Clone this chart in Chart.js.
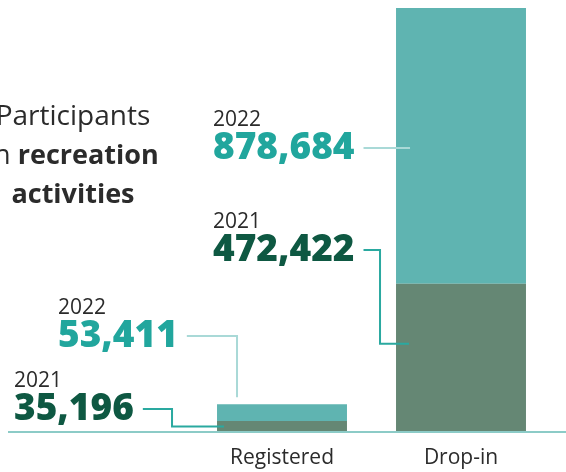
<!DOCTYPE html>
<html>
<head>
<meta charset="utf-8">
<script src="https://cdn.jsdelivr.net/npm/chart.js@4/dist/chart.umd.min.js"></script>
<style>
  html, body { margin: 0; padding: 0; background: #fff; }
  #wrap { width: 566px; height: 472px; }
</style>
</head>
<body>
<div id="wrap"><canvas id="chart" width="566" height="472"></canvas></div>
<script>
// data
const categories = ['Registered', 'Drop-in'];
const years = ['2021', '2022'];
const values2021 = [35196, 472422];
const values2022 = [53411, 878684];
const titleLines = [
    [['Participants', 400]],
    [['in ', 400], ['recreation', 700]],
    [['activities', 700]]
];

const colour2021 = '#658774';
const colour2022 = '#5fb4b1';
const text2021 = '#0e5842';
const text2022 = '#21a69d';
const line2021 = '#2aa9a0';
const line2022 = '#a9d9d7';
const fontName = '"Open Sans", "Noto Sans", sans-serif';

// callouts: which bar / dataset, where the text goes, how the leader bends
const callouts = [
    { ds: 1, bar: 1, x: 213, y: 126, elbow: null, endX: 14, target: 0.51 },
    { ds: 0, bar: 1, x: 213, y: 228, elbow: -16, endX: 13, target: 0.405 },
    { ds: 1, bar: 0, x: 58, y: 314, elbow: 20, endX: null, target: -7 },
    { ds: 0, bar: 0, x: 14, y: 387, elbow: -45, endX: 7, target: 0.5 }
];

function fmt(v) {
    return v.toLocaleString('en-US');
}

const calloutPlugin = {
    id: 'callouts',
    afterDatasetsDraw(chart) {
        const ctx = chart.ctx;
        const area = chart.chartArea;
        ctx.save();

        // baseline
        ctx.strokeStyle = '#8ccbc7';
        ctx.lineWidth = 2;
        ctx.beginPath();
        ctx.moveTo(8, area.bottom);
        ctx.lineTo(chart.width, area.bottom);
        ctx.stroke();

        // title
        ctx.fillStyle = '#2b2b2b';
        ctx.textBaseline = 'alphabetic';
        let ty = 125;
        titleLines.forEach((parts, i) => {
            const size = i === 0 ? 28 : 27;
            let w = 0;
            parts.forEach(p => {
                ctx.font = p[1] + ' ' + size + 'px ' + fontName;
                w += ctx.measureText(p[0]).width;
            });
            let tx = 73 - w / 2;
            parts.forEach(p => {
                ctx.font = p[1] + ' ' + size + 'px ' + fontName;
                ctx.textAlign = 'left';
                ctx.fillText(p[0], tx, ty);
                tx += ctx.measureText(p[0]).width;
            });
            ty += 39;
        });

        // callouts
        callouts.forEach(c => {
            const values = c.ds === 0 ? values2021 : values2022;
            const el = chart.getDatasetMeta(c.ds).data[c.bar];
            const p = el.getProps(['x', 'y', 'base', 'width'], true);
            const left = p.x - p.width / 2;
            const top = Math.min(p.y, p.base);
            const bottom = Math.max(p.y, p.base);

            ctx.textAlign = 'left';
            ctx.fillStyle = '#2b2b2b';
            ctx.font = '400 21px ' + fontName;
            ctx.fillText(years[c.ds], c.x, c.y);

            ctx.fillStyle = c.ds === 0 ? text2021 : text2022;
            ctx.font = '800 37px ' + fontName;
            const label = fmt(values[c.bar]);
            ctx.fillText(label, c.x, c.y + 33);
            const textW = ctx.measureText(label).width;

            const sx = c.x + textW + 9;
            const sy = c.y + 33 - 11;
            const ty2 = c.target < 0 ? top + c.target : top + (bottom - top) * c.target;

            ctx.strokeStyle = c.ds === 0 ? line2021 : line2022;
            ctx.lineWidth = 2;
            ctx.beginPath();
            ctx.moveTo(sx, sy);
            if (c.elbow === null) {
                ctx.lineTo(left + c.endX, sy);
            } else {
                const ex = left + c.elbow;
                ctx.lineTo(ex, sy);
                ctx.lineTo(ex, ty2);
                if (c.endX !== null) ctx.lineTo(left + c.endX, ty2);
            }
            ctx.stroke();
        });

        ctx.restore();
    }
};

const total = values2021.map((v, i) => v + values2022[i]);

new Chart(document.getElementById('chart'), {
    type: 'bar',
    data: {
        labels: categories,
        datasets: [
            { label: years[0], data: values2021, backgroundColor: colour2021 },
            { label: years[1], data: values2022, backgroundColor: colour2022 }
        ]
    },
    options: {
        responsive: false,
        animation: false,
        devicePixelRatio: 1,
        layout: { padding: { left: 192.5, right: 15.5, top: 8, bottom: 0 } },
        datasets: { bar: { barPercentage: 0.726, categoryPercentage: 1 } },
        plugins: { legend: { display: false }, tooltip: { enabled: false } },
        scales: {
            x: {
                stacked: true,
                grid: { display: false, drawTicks: false },
                border: { display: false },
                ticks: { color: '#2b2b2b', padding: 13, font: { family: fontName, size: 21 } },
                afterFit: axis => { axis.height = 40; }
            },
            y: {
                stacked: true,
                display: false,
                min: 0,
                max: Math.max(...total)
            }
        }
    },
    plugins: [calloutPlugin]
});
</script>
</body>
</html>
